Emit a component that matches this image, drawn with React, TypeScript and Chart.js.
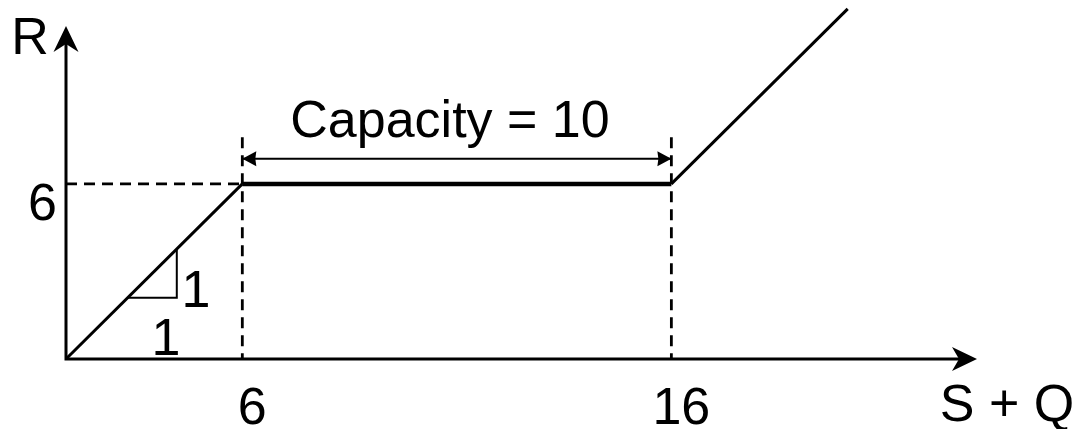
import React, { useEffect, useRef } from 'react';
import { Chart, LinearScale, registerables } from 'chart.js';

// ---- data ----
const CURVE_X = [0, 6, 16, 22];
const CURVE_Y = [0, 6, 6, 12];
const X_TICKS = [6, 16];
const Y_TICKS = [6];
const CAPACITY_START = 6;
const CAPACITY_END = 16;
const CAPACITY = CAPACITY_END - CAPACITY_START;
const R_LEVEL = 6;
const GUIDE_TOP = 7.6;
const ARROW_LEVEL = 6.86;
const SLOPE_X = [2.1, 3.77, 3.77];
const SLOPE_Y = [2.1, 2.1, 3.77];
const X_MAX = 26.4;
const Y_MAX = 12.03;
const Y_AXIS_TOP = 11.41;

const FONT = '"Liberation Sans", Arial, sans-serif';
const FONT_SIZE = 52;

// text annotations in data coordinates (x centre, y baseline)
const LABELS = [
  { text: `Capacity = ${CAPACITY}`, x: 10.84, y: 7.61 },
  { text: 'R', x: -1.22, y: 10.46 },
  { text: 'S + Q', x: 27.42, y: -2.13 },
  { text: '1', x: 4.42, y: 1.78 },
  { text: '1', x: 3.4, y: 0.14 },
];

// ---- schematic (stretched) x scale ----
const STRETCH = 1.46;
function toU(v: number) {
  if (v <= CAPACITY_START) return v;
  if (v <= CAPACITY_END) return CAPACITY_START + (v - CAPACITY_START) * STRETCH;
  return CAPACITY_START + (CAPACITY_END - CAPACITY_START) * STRETCH + (v - CAPACITY_END);
}
function fromU(u: number) {
  const a = CAPACITY_START;
  const b = CAPACITY_START + (CAPACITY_END - CAPACITY_START) * STRETCH;
  if (u <= a) return u;
  if (u <= b) return CAPACITY_START + (u - a) / STRETCH;
  return CAPACITY_END + (u - b);
}

class BrokenLinearScale extends LinearScale {
  static id = 'brokenLinear';
  static defaults = LinearScale.defaults;
  getPixelForValue(value: any) {
    if (value === null || value === undefined) return NaN;
    const u0 = toU(this.min as number), u1 = toU(this.max as number);
    return this.getPixelForDecimal((toU(value) - u0) / (u1 - u0));
  }
  getValueForPixel(pixel: number) {
    const u0 = toU(this.min as number), u1 = toU(this.max as number);
    return fromU(u0 + this.getDecimalForPixel(pixel) * (u1 - u0));
  }
}

Chart.register(...registerables, BrokenLinearScale as any);

function drawHead(ctx: CanvasRenderingContext2D, x: number, y: number, angle: number, len: number, half: number, notch: number) {
  ctx.save();
  ctx.translate(x, y);
  ctx.rotate(angle);
  ctx.beginPath();
  ctx.moveTo(0, 0);
  ctx.lineTo(-len, -half);
  ctx.lineTo(-len + notch, 0);
  ctx.lineTo(-len, half);
  ctx.closePath();
  ctx.fill();
  ctx.restore();
}

const overlay = {
  id: 'overlay',
  afterDatasetsDraw(chart: any) {
    const ctx: CanvasRenderingContext2D = chart.ctx;
    const xs = chart.scales.x;
    const ys = chart.scales.y;
    const ox = xs.getPixelForValue(0);
    const oy = ys.getPixelForValue(0);
    const right = chart.chartArea.right;
    const top = ys.getPixelForValue(Y_AXIS_TOP);
    ctx.save();
    ctx.strokeStyle = '#000';
    ctx.fillStyle = '#000';
    ctx.lineWidth = 3;
    ctx.lineCap = 'butt';
    // axes
    ctx.beginPath();
    ctx.moveTo(ox - 1.5, oy);
    ctx.lineTo(right - 18, oy);
    ctx.moveTo(ox, oy + 1.5);
    ctx.lineTo(ox, top + 18);
    ctx.stroke();
    drawHead(ctx, right, oy, 0, 25, 12, 7);
    drawHead(ctx, ox, top, -Math.PI / 2, 26, 12.5, 8);
    // capacity arrow heads
    const ay = ys.getPixelForValue(ARROW_LEVEL);
    drawHead(ctx, xs.getPixelForValue(CAPACITY_START), ay, Math.PI, 14, 7.5, 1);
    drawHead(ctx, xs.getPixelForValue(CAPACITY_END), ay, 0, 14, 7.5, 1);
    // texts
    ctx.font = `${FONT_SIZE}px ${FONT}`;
    ctx.textAlign = 'center';
    ctx.textBaseline = 'alphabetic';
    for (const l of LABELS) {
      ctx.fillText(l.text, xs.getPixelForValue(l.x), ys.getPixelForValue(l.y));
    }
    ctx.restore();
  },
};

const pts = (xa: number[], ya: number[]) => xa.map((x, i) => ({ x, y: ya[i] }));

export default function App() {
  const ref = useRef<HTMLCanvasElement | null>(null);
  useEffect(() => {
    if (!ref.current) return;
    const dash = [11, 7];
    const chart = new Chart(ref.current, {
      type: 'line',
      data: {
        datasets: [
          {
            data: pts(CURVE_X, CURVE_Y),
            borderColor: '#000',
            borderWidth: 3,
            borderJoinStyle: 'miter',
            pointRadius: 0,
            clip: false as any,
            segment: { borderWidth: (c: any) => (c.p0DataIndex === 1 ? 4.5 : 3) },
          } as any,
          {
            data: pts([0, CAPACITY_START], [R_LEVEL, R_LEVEL]),
            borderColor: '#000', borderWidth: 2.8, borderDash: dash, pointRadius: 0,
          },
          {
            data: pts([CAPACITY_START, CAPACITY_START], [GUIDE_TOP, 0]),
            borderColor: '#000', borderWidth: 2.8, borderDash: dash, pointRadius: 0,
          },
          {
            data: pts([CAPACITY_END, CAPACITY_END], [GUIDE_TOP, 0]),
            borderColor: '#000', borderWidth: 2.8, borderDash: dash, pointRadius: 0,
          },
          {
            data: pts([CAPACITY_START, CAPACITY_END], [ARROW_LEVEL, ARROW_LEVEL]),
            borderColor: '#000', borderWidth: 2, pointRadius: 0,
          },
          {
            data: pts(SLOPE_X, SLOPE_Y),
            borderColor: '#000', borderWidth: 2, pointRadius: 0, borderJoinStyle: 'miter',
          } as any,
        ],
      },
      options: {
        animation: false,
        responsive: false,
        events: [],
        layout: { padding: { top: 8, right: 104, left: 0, bottom: 0 } },
        plugins: { legend: { display: false }, tooltip: { enabled: false } },
        scales: {
          x: {
            type: 'brokenLinear' as any,
            min: 0,
            max: X_MAX,
            afterFit: (s: any) => {
              s.height = 70;
              s.paddingLeft = 0; s.paddingRight = 0; s.paddingTop = 0; s.paddingBottom = 0;
            },
            afterBuildTicks: (s: any) => { s.ticks = X_TICKS.map((v) => ({ value: v })); },
            grid: { display: false, drawTicks: false },
            border: { display: false },
            ticks: {
              font: { family: FONT, size: FONT_SIZE },
              color: '#000',
              padding: 19,
              labelOffset: 10,
              maxRotation: 0,
              minRotation: 0,
              autoSkip: false,
              callback: (v: any) => String(v),
            },
          } as any,
          y: {
            type: 'linear',
            min: 0,
            max: Y_MAX,
            afterFit: (s: any) => {
              s.width = 66;
              s.paddingLeft = 0; s.paddingRight = 0; s.paddingTop = 0; s.paddingBottom = 0;
            },
            afterBuildTicks: (s: any) => { s.ticks = Y_TICKS.map((v) => ({ value: v })); },
            grid: { display: false, drawTicks: false },
            border: { display: false },
            ticks: {
              font: { family: FONT, size: FONT_SIZE },
              color: '#000',
              padding: 9,
              labelOffset: 21.5,
              autoSkip: false,
              callback: (v: any) => String(v),
            },
          },
        },
      },
      plugins: [overlay],
    });
    return () => chart.destroy();
  }, []);
  return (
    <div style={{ position: 'fixed', left: 0, top: 0, width: 1081, height: 429, background: '#fff' }}>
      <canvas ref={ref} width={1081} height={429} style={{ display: 'block' }} />
    </div>
  );
}
